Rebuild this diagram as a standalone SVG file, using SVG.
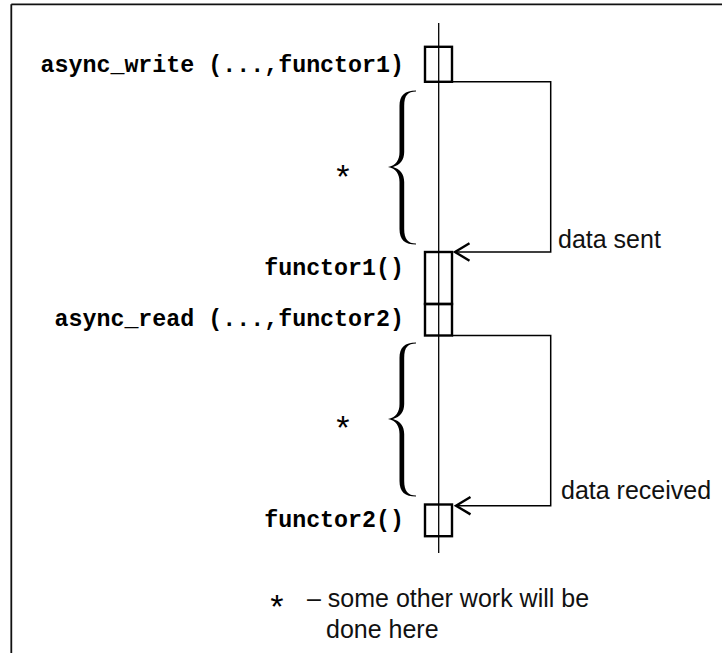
<svg xmlns="http://www.w3.org/2000/svg" width="722" height="653" viewBox="0 0 722 653">
  <defs>
    <style>
      .frame { stroke: #111; stroke-width: 1.8; fill: none; }
      .life { stroke: #000; stroke-width: 1.3; fill: none; }
      .box { stroke: #000; stroke-width: 2.4; fill: none; }
      .conn { stroke: #000; stroke-width: 1.5; fill: none; }
      .arrow { stroke: #000; stroke-width: 2.4; fill: none; stroke-linecap: butt; }
      .code { font-family: "Liberation Mono", "Courier New", monospace; font-weight: bold; font-size: 23.3px; fill: #000; text-anchor: end; }
      .label { font-family: "Liberation Sans", Arial, sans-serif; font-size: 25px; fill: #111; }
      .star { font-family: "Liberation Mono", "Courier New", monospace; font-size: 34px; fill: #000; text-anchor: middle; }
      .brace { fill: #000; }
    </style>
    <path id="brace" class="brace" d="M416,90.5 C405,90.5 399.5,95 399.5,106 L399.5,152 C399.5,160 396,165.5 388,167 C396,168.5 399.5,174 399.5,182 L399.5,229 C399.5,240 405,244.5 416,244.5 L416,243.5 C408,243.5 404.2,239 404.2,229 L404.2,182 C404.2,174 400,169 393,167 C400,165 404.2,160 404.2,152 L404.2,106 C404.2,95 408,91.5 416,91.5 Z"/>
  </defs>

  <g id="frame">
    <line class="frame" x1="11.3" y1="4.3" x2="722" y2="4.3"/>
    <line class="frame" x1="11.3" y1="4.3" x2="11.3" y2="653"/>
  </g>

  <g id="lifeline">
    <line class="life" x1="438.7" y1="23" x2="438.7" y2="553"/>
  </g>

  <g id="node-async-write">
    <rect class="box" x="425" y="46.8" width="27" height="35"/>
    <text class="code" x="404" y="72">async_write (...,functor1)</text>
  </g>

  <g id="node-functor1">
    <rect class="box" x="425" y="252" width="27" height="52"/>
    <text class="code" x="404" y="275">functor1()</text>
  </g>

  <g id="node-async-read">
    <rect class="box" x="425" y="304" width="27" height="31.5"/>
    <text class="code" x="404" y="326">async_read (...,functor2)</text>
  </g>

  <g id="node-functor2">
    <rect class="box" x="425" y="504.5" width="27" height="31.7"/>
    <text class="code" x="404" y="527">functor2()</text>
  </g>

  <g id="work1">
    <use href="#brace"/>
    <text class="star" x="343" y="189">*</text>
  </g>

  <g id="work2">
    <use href="#brace" transform="translate(0,252)"/>
    <text class="star" x="343" y="440">*</text>
  </g>

  <g id="connectors">
    <path class="conn" d="M452,81.8 H550.7 V252 H455"/>
    <path class="arrow" d="M469.5,243.3 L455,252 L469.5,260.7"/>
    <path class="conn" d="M452,335.5 H550.7 V505.7 H456"/>
    <path class="arrow" d="M470.5,497 L456,505.7 L470.5,514.4"/>
    <text class="label" x="558" y="248">data sent</text>
    <text class="label" x="561" y="499">data received</text>
  </g>

  <g id="legend">
    <text class="star" x="277" y="619">*</text>
    <text class="label" x="307" y="607">– some other work will be</text>
    <text class="label" x="326" y="638">done here</text>
  </g>
</svg>
